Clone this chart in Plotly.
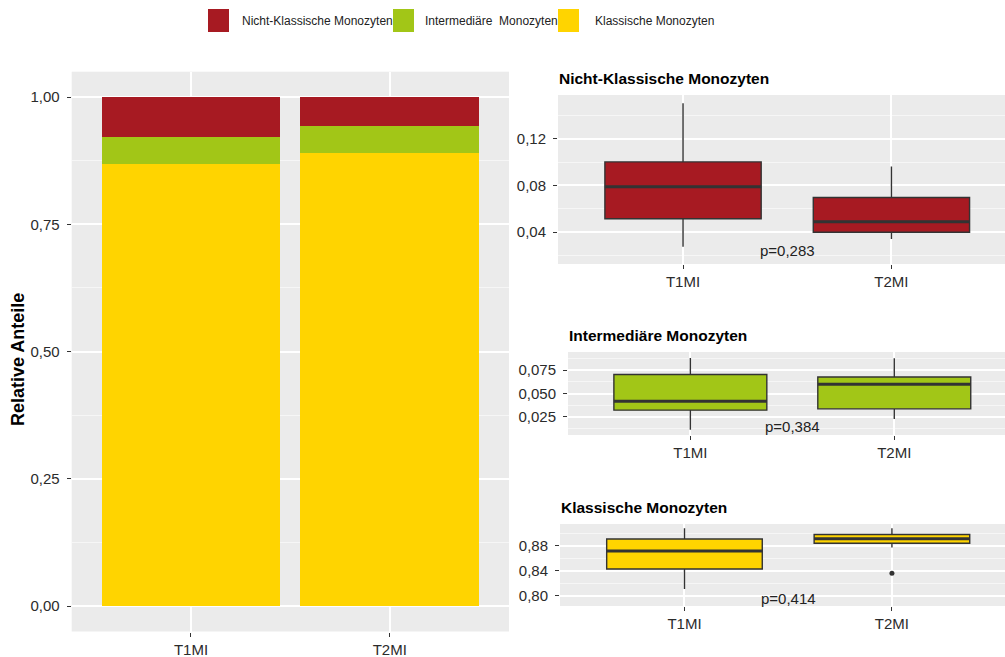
import plotly.graph_objects as go

# ---- data -------------------------------------------------------------
groups = ["T1MI", "T2MI"]
subsets = ["Nicht-Klassische Monozyten", "Intermediäre Monozyten", "Klassische Monozyten"]
legend_labels = ["Nicht-Klassische Monozyten", "Intermediäre  Monozyten", "Klassische Monozyten"]
colors = ["#A71A22", "#A2C617", "#FFD400"]

# mean relative shares per group (stacked bars)
share_nicht = [0.079, 0.057]
share_inter = [0.053, 0.053]
share_klass = [0.868, 0.890]

# boxplot statistics per subset: lower whisker, Q1, median, Q3, upper whisker
nicht_low = [0.0274, 0.0340]
nicht_q1 = [0.0514, 0.0398]
nicht_med = [0.0789, 0.0489]
nicht_q3 = [0.1003, 0.0697]
nicht_high = [0.1506, 0.0963]

inter_low = [0.0111, 0.0225]
inter_q1 = [0.0321, 0.0335]
inter_med = [0.0418, 0.0600]
inter_q3 = [0.0704, 0.0678]
inter_high = [0.0882, 0.0880]

klass_low = [0.8107, 0.8770]
klass_q1 = [0.8427, 0.8838]
klass_med = [0.8715, 0.8910]
klass_q3 = [0.8907, 0.8980]
klass_high = [0.9078, 0.9080]
klass_outlier_group = ["T2MI"]
klass_outlier_value = [0.8358]

p_values = ["p=0,283", "p=0,384", "p=0,414"]

# ---- layout helpers ---------------------------------------------------
W, H = 1005, 657
def px_x(p):
    return p / W
def px_y(p):
    return 1 - p / H

pos = [i + 1 for i in range(len(groups))]
gpos = dict(zip(groups, pos))
BOX_W = 0.75
EDGE = "#333333"
FONT = "Liberation Sans, Arial, sans-serif"

fig = go.Figure()

# ---- stacked bar panel ------------------------------------------------
for name, vals, col in [(subsets[2], share_klass, colors[2]),
                        (subsets[1], share_inter, colors[1]),
                        (subsets[0], share_nicht, colors[0])]:
    fig.add_trace(go.Bar(x=pos, y=vals, name=name, marker=dict(color=col, line_width=0),
                         width=0.9, xaxis="x", yaxis="y", showlegend=False))

# ---- box panels -------------------------------------------------------
panels = [
    (subsets[0], colors[0], nicht_low, nicht_q1, nicht_med, nicht_q3, nicht_high, "2"),
    (subsets[1], colors[1], inter_low, inter_q1, inter_med, inter_q3, inter_high, "3"),
    (subsets[2], colors[2], klass_low, klass_q1, klass_med, klass_q3, klass_high, "4"),
]
for name, col, lo, q1, med, q3, hi, k in panels:
    fig.add_trace(go.Box(x=pos, q1=q1, median=med, q3=q3, lowerfence=lo, upperfence=hi,
                         width=BOX_W, whiskerwidth=0, boxpoints=False,
                         fillcolor=col, line=dict(color=EDGE, width=1.4),
                         xaxis="x" + k, yaxis="y" + k, showlegend=False, name=name))
    mx, my = [], []
    for p, m in zip(pos, med):
        mx += [p - BOX_W / 2, p + BOX_W / 2, None]
        my += [m, m, None]
    fig.add_trace(go.Scatter(x=mx, y=my, mode="lines", line=dict(color=EDGE, width=3),
                             xaxis="x" + k, yaxis="y" + k, showlegend=False, hoverinfo="skip"))

fig.add_trace(go.Scatter(x=[gpos[g] for g in klass_outlier_group], y=klass_outlier_value,
                         mode="markers", marker=dict(color=EDGE, size=5),
                         xaxis="x4", yaxis="y4", showlegend=False))

# ---- axes -------------------------------------------------------------
grid = dict(showgrid=True, gridcolor="white", gridwidth=1.6, zeroline=False,
            ticks="outside", ticklen=4, tickcolor=EDGE, tickwidth=1,
            tickfont=dict(family=FONT, size=15, color="#2b2b2b"), showline=False)

def xaxis(dom, rng):
    return dict(domain=dom, range=rng, tickvals=pos, ticktext=groups, **grid)

def yaxis(dom, rng, ticks, fmt, minor):
    d = dict(domain=dom, range=rng, tickvals=ticks, tickformat=fmt,
             ticklabelstandoff=4, **grid)
    d["minor"] = dict(dtick=minor, tick0=0, showgrid=True, gridcolor="#F6F6F6",
                      gridwidth=0.8, ticks="")
    return d

fig.update_layout(
    xaxis=dict(anchor="y", **xaxis([px_x(71.7), px_x(509)], [0.4, 2.6])),
    yaxis=dict(anchor="x", **yaxis([px_y(631.5), px_y(71.7)], [-0.05, 1.05],
                                   [0, 0.25, 0.5, 0.75, 1.0], ".2f", 0.125)),
    xaxis2=dict(anchor="y2", **xaxis([px_x(558), 1], [0.4, 2.545])),
    yaxis2=dict(anchor="x2", **yaxis([px_y(264), px_y(95)], [0.0125, 0.1578],
                                     [0.04, 0.08, 0.12], ".2f", 0.02)),
    xaxis3=dict(anchor="y3", **xaxis([px_x(568), 1], [0.4, 2.543])),
    yaxis3=dict(anchor="x3", **yaxis([px_y(435), px_y(352)], [0.0054, 0.0946],
                                     [0.025, 0.05, 0.075], ".3f", 0.0125)),
    xaxis4=dict(anchor="y4", **xaxis([px_x(560), 1], [0.4, 2.545])),
    yaxis4=dict(anchor="x4", **yaxis([px_y(606), px_y(524)], [0.7835, 0.9147],
                                     [0.80, 0.84, 0.88], ".2f", 0.02)),
)

fig.update_layout(
    width=W, height=H, margin=dict(l=0, r=0, t=0, b=0),
    paper_bgcolor="white", plot_bgcolor="#EBEBEB",
    barmode="stack", bargap=0.1, separators=",.",
    font=dict(family=FONT, color="#333333"),
)

# ---- panel titles, p-values, axis title -------------------------------
annotations = []
for title, xl, yt in [(subsets[0], 557, 78), (subsets[1], 567, 335), (subsets[2], 559, 507)]:
    annotations.append(dict(text="<b>%s</b>" % title, x=px_x(xl), y=px_y(yt), xref="paper",
                             yref="paper", xanchor="left", yanchor="middle", showarrow=False,
                             font=dict(family=FONT, size=15.5, color="black")))
for ptxt, k, yv in zip(p_values, ["2", "3", "4"], [0.0243, 0.0150, 0.7963]):
    annotations.append(dict(text=ptxt, x=1.5, y=yv, xref="x" + k, yref="y" + k,
                            xanchor="center", yanchor="middle", showarrow=False,
                            font=dict(family=FONT, size=15, color="#222222")))
annotations.append(dict(text="<b>Relative Anteile</b>", x=px_x(18), y=px_y(360), xref="paper",
                        yref="paper", textangle=-90, showarrow=False, xanchor="center",
                        yanchor="middle", font=dict(family=FONT, size=18, color="black")))

# ---- legend (top, centred) --------------------------------------------
shapes = []
key_x = [208, 393, 558]
text_x = [240, 423, 593]
for lab, col, kx, tx in zip(legend_labels, colors, key_x, text_x):
    shapes.append(dict(type="rect", xref="paper", yref="paper", x0=px_x(kx), x1=px_x(kx + 21),
                       y0=px_y(32), y1=px_y(9), fillcolor=col, line=dict(width=0)))
    annotations.append(dict(text=lab, x=px_x(tx), y=px_y(20.5), xref="paper", yref="paper",
                            xanchor="left", yanchor="middle", showarrow=False,
                            font=dict(family=FONT, size=12, color="#222222")))

fig.update_layout(annotations=annotations, shapes=shapes)

fig.write_html("out.html")
